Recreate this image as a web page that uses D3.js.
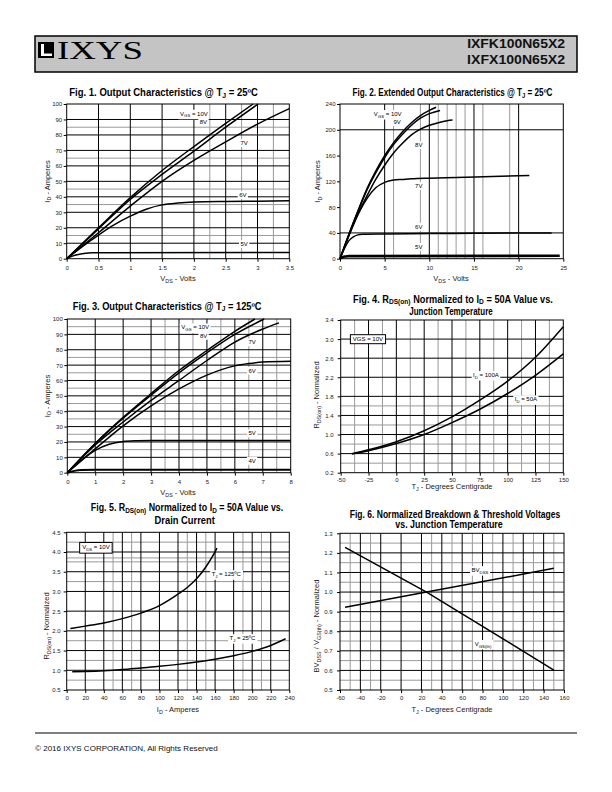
<!DOCTYPE html>
<html><head><meta charset="utf-8">
<script src="https://cdn.jsdelivr.net/npm/d3@7"></script>
<style>body{margin:0;background:#fff}svg{display:block}</style>
</head><body>
<svg id="c" width="612" height="792"></svg>
<script>
// ---------------- DATA ----------------
// Fig 1: Output Characteristics @ TJ = 25C  [VDS (V), ID (A)]
const fig1_10V = [[0,0],[0.5,20],[1,39.5],[1.5,57],[2,72.5],[2.5,87.5],[2.93,100]];
const fig1_8V  = [[0,0],[0.5,19.3],[1,38.3],[1.5,54.5],[2,69.5],[2.5,85],[3.01,100]];
const fig1_7V  = [[0,0],[0.5,16.8],[1,34],[1.5,50],[2,63.5],[2.5,75.5],[3,87],[3.5,97]];
const fig1_6V  = [[0,0],[0.25,8],[0.5,15.3],[0.75,22],[1,27.5],[1.25,32],[1.5,34.8],[1.75,36],[2,36.6],[2.5,37],[3,37.2],[3.5,37.4]];
const fig1_5V  = [[0,0],[0.1,1.8],[0.2,2.9],[0.3,3.5],[0.4,3.8],[0.5,3.9],[3.5,4.0]];
const fig1XTicks = [0,0.5,1,1.5,2,2.5,3,3.5];
const fig1YTicks = [0,10,20,30,40,50,60,70,80,90,100];

// Fig 2: Extended Output Characteristics @ TJ = 25C
const fig2_10V = [[0,0],[1,38],[2,74],[3,108],[4,136],[5,160],[6,180],[7,197],[8,211],[9,222],[10,230],[10.76,235]];
const fig2_9V  = [[0,0],[1,38],[2,73],[3,106],[4,133],[5,157],[6,177],[7,193],[8,207],[9,218],[10,225],[11.2,230]];
const fig2_8V  = [[0,0],[1,36],[2,69],[3,97],[4,123],[5,145],[6,164],[7,179],[8,192],[9,201],[10,207],[11,211],[12,214],[12.6,215]];
const fig2_7V  = [[0,0],[1,36],[2,68],[3,93],[4,110],[5,118.5],[6,122],[7,123],[8,124],[10,125],[13,126],[17,127.5],[21.2,129]];
const fig2_6V  = [[0,0],[0.5,16],[1,28],[1.5,34],[2,37],[2.5,38],[5,38.5],[10,39],[15,39.5],[23.7,40]];
const fig2_5V  = [[0,0],[0.3,2.5],[0.6,3.5],[1,4],[24.6,4.5]];
const fig2XTicks = [0,5,10,15,20,25];
const fig2YTicks = [0,40,80,120,160,200,240];

// Fig 3: Output Characteristics @ TJ = 125C
const fig3_10V = [[0,0],[1,19],[2,36],[3,51.5],[4,66.5],[5,79.5],[6,92],[6.72,100]];
const fig3_8V  = [[0,0],[1,19],[2,35.5],[3,50.5],[4,65],[5,78],[6,90],[7.05,100]];
const fig3_7V  = [[0,0],[1,18],[2,33],[3,47],[4,60],[5,73],[6,85],[7,93.5],[7.58,97.5]];
const fig3_6V  = [[0,0],[1,15.5],[2,30.5],[3,43.5],[4,54.5],[5,63.5],[6,69.5],[6.5,71],[7,72],[8,72.5]];
const fig3_5V  = [[0,0],[0.5,8],[1,14.5],[1.5,18.5],[2,20.3],[2.5,20.8],[3,21],[5,21],[8,21]];
const fig3_4V  = [[0,0],[0.25,1.2],[0.5,1.8],[1,2],[8,2]];
const fig3XTicks = [0,1,2,3,4,5,6,7,8];
const fig3YTicks = [0,10,20,30,40,50,60,70,80,90,100];

// Fig 4: RDS(on) normalized vs junction temperature  [TJ (C), RDS norm]
const fig4_100A = [[-40,0.6],[-25,0.68],[0,0.85],[25,1.08],[50,1.37],[75,1.72],[100,2.12],[125,2.62],[150,3.26]];
const fig4_50A  = [[-40,0.59],[-25,0.66],[0,0.81],[25,1.0],[50,1.25],[75,1.53],[100,1.86],[125,2.24],[150,2.69]];
const fig4XTicks = [-50,-25,0,25,50,75,100,125,150];
const fig4YTicks = [0.2,0.6,1.0,1.4,1.8,2.2,2.6,3.0,3.4];

// Fig 5: RDS(on) normalized vs drain current  [ID (A), RDS norm]
const fig5_125C = [[4,2.06],[20,2.12],[40,2.2],[60,2.31],[80,2.45],[100,2.64],[120,2.93],[130,3.1],[140,3.32],[150,3.62],[157,3.88],[162,4.1]];
const fig5_25C  = [[6,0.96],[20,0.97],[40,0.99],[60,1.02],[80,1.06],[100,1.1],[120,1.15],[140,1.21],[160,1.28],[180,1.37],[200,1.48],[220,1.63],[236,1.8]];
const fig5XTicks = [0,20,40,60,80,100,120,140,160,180,200,220,240];
const fig5YTicks = [0.5,1.0,1.5,2.0,2.5,3.0,3.5,4.0,4.5];

// Fig 6: Normalized breakdown & threshold voltages vs TJ
const fig6_BVDSS = [[-55,0.922],[25,1.0],[150,1.121]];
const fig6_VGSth = [[-55,1.228],[25,1.0],[150,0.602]];
const fig6XTicks = [-60,-40,-20,0,20,40,60,80,100,120,140,160];
const fig6YTicks = [0.5,0.6,0.7,0.8,0.9,1.0,1.1,1.2,1.3];

// ---------------- DRAWING ----------------
const FONT = "'Liberation Sans', Arial, Helvetica, sans-serif";
const svg = d3.select('#c');

function rich(textSel, str, fs, shift) {
  const re = /_\{([^}]*)\}/g;
  let last = 0, m, shifted = false;
  const sh = fs * (shift || 0.22);
  const add = (t, sub) => {
    if (!t) return;
    const ts = textSel.append('tspan').text(t);
    if (sub) { ts.attr('font-size', fs * 0.72).attr('dy', sh); shifted = true; }
    else if (shifted) { ts.attr('dy', -sh); shifted = false; }
  };
  while ((m = re.exec(str)) !== null) {
    add(str.slice(last, m.index), false);
    add(m[1], true);
    last = re.lastIndex;
  }
  add(str.slice(last), false);
}

function txt(parent, x, y, str, o) {
  o = o || {};
  const fs = o.fs || 6;
  const t = parent.append('text').attr('x', x).attr('y', y)
    .attr('font-family', o.family || FONT).attr('font-size', fs)
    .attr('font-weight', o.bold ? 'bold' : 'normal')
    .attr('text-anchor', o.anchor || 'middle').attr('fill', o.fill || '#000');
  if (o.ls) t.attr('letter-spacing', o.ls);
  rich(t, str, fs, o.shift);
  if (o.width) {
    const w = t.node().getBBox().width;
    const k = o.width / w;
    t.attr('transform', `translate(${x},0) scale(${k},1) translate(${-x},0)`);
  }
  return t;
}

function drawChart(c) {
  const g = svg.append('g');
  const x = d3.scaleLinear().domain(c.xd).range([c.l, c.r]);
  const y = d3.scaleLinear().domain(c.yd).range([c.b, c.t]);
  const grid = g.append('g');
  const vl = (v, col) => grid.append('line').attr('x1', x(v)).attr('x2', x(v)).attr('y1', c.t).attr('y2', c.b).attr('stroke', col).attr('stroke-width', 1);
  const hl = (v, col) => grid.append('line').attr('y1', y(v)).attr('y2', y(v)).attr('x1', c.l).attr('x2', c.r).attr('stroke', col).attr('stroke-width', 1);
  (c.xMinor || []).forEach(v => vl(v, '#9a9a9a'));
  (c.yMinor || []).forEach(v => hl(v, '#9a9a9a'));
  (c.xMajor || []).forEach(v => vl(v, '#000'));
  (c.yMajor || []).forEach(v => hl(v, '#000'));

  const styleAxis = s => {
    s.select('.domain').remove();
    s.selectAll('line').attr('stroke', '#000');
    s.selectAll('text').attr('font-size', 6).attr('font-family', FONT).attr('fill', '#222');
  };
  g.append('g').attr('transform', `translate(0,${c.b})`)
    .call(d3.axisBottom(x).tickValues(c.xTicks).tickFormat(c.xFmt || String).tickSize(3).tickPadding(c.xPad))
    .call(styleAxis);
  g.append('g').attr('transform', `translate(${c.l},0)`)
    .call(d3.axisLeft(y).tickValues(c.yTicks).tickFormat(c.yFmt || String).tickSize(3).tickPadding(c.yPad))
    .call(styleAxis);

  g.append('rect').attr('x', c.l).attr('y', c.t).attr('width', c.r - c.l).attr('height', c.b - c.t)
    .attr('fill', 'none').attr('stroke', '#000').attr('stroke-width', 1);

  const line = d3.line().x(d => x(d[0])).y(d => y(d[1])).curve(c.curve || d3.curveMonotoneX);
  c.series.forEach(s => g.append('path').attr('d', line(s.data)).attr('fill', 'none')
    .attr('stroke', '#000').attr('stroke-width', s.w || 1.5).attr('stroke-linejoin', 'round'));

  (c.labels || []).forEach(lb => {
    const fs = lb.fs || 6;
    const lg = g.append('g');
    const t = txt(lg, x(lb.x), y(lb.y) + fs * 0.35, lb.t, { fs, shift: 0.28 });
    const bb = t.node().getBBox();
    const p = lb.box ? 2.5 : 1.5;
    lg.insert('rect', 'text').attr('x', bb.x - p).attr('y', bb.y - p * 0.6).attr('width', bb.width + 2 * p).attr('height', bb.height + p * 1.2)
      .attr('fill', '#fff').attr('stroke', lb.box ? '#000' : 'none').attr('stroke-width', 1);
  });

  c.title.forEach(tl => txt(svg, tl.x, tl.y, tl.t, { fs: 10, bold: true, width: tl.w, shift: 0.15 }));
  txt(svg, c.xl[0], c.xl[1], c.xlabel, { fs: 7.5, fill: '#222' });
  const yt = txt(svg, 0, 0, c.ylabel, { fs: 7.5, fill: '#222' });
  yt.attr('transform', `translate(${c.yl[0]},${c.yl[1]}) rotate(-90)`);
}

// ---- Header ----
svg.append('rect').attr('x', 35).attr('y', 36).attr('width', 542).attr('height', 36)
  .attr('fill', '#c4c4c4').attr('stroke', '#000').attr('stroke-width', 1.5);
svg.append('rect').attr('x', 38).attr('y', 42).attr('width', 16).attr('height', 16).attr('fill', '#000');
svg.append('path').attr('d', 'M41,44 H44 V53.5 H52 V56 H41 Z').attr('fill', '#fff');
txt(svg, 57, 59, 'IXYS', { fs: 26, family: "'Liberation Serif', 'Times New Roman', serif", anchor: 'start', width: 86 });
txt(svg, 565, 48.5, 'IXFK100N65X2', { fs: 12.5, bold: true, anchor: 'end', width: 98, fill: '#111' });
txt(svg, 565, 64.5, 'IXFX100N65X2', { fs: 12.5, bold: true, anchor: 'end', width: 98, fill: '#111' });

// ---- Footer ----
svg.append('line').attr('x1', 35).attr('x2', 577).attr('y1', 733).attr('y2', 733).attr('stroke', '#000').attr('stroke-width', 1);
txt(svg, 35, 751, '© 2016 IXYS CORPORATION, All Rights Reserved', { fs: 8, anchor: 'start', width: 183, fill: '#111' });

// ---- Fig 1 ----
drawChart({
  l: 66.7, r: 289.3, t: 104, b: 258.7, xd: [0, 3.5], yd: [0, 100],
  xTicks: fig1XTicks, yTicks: fig1YTicks, xPad: 4, yPad: 1.5,
  xMajor: [0.5, 1, 1.5, 2, 2.5, 3], xMinor: [2.25, 2.75, 3.25],
  yMajor: [10, 20, 30, 40, 50, 60, 70, 80, 90], yMinor: [15, 35, 45, 65, 85],
  series: [{ data: fig1_10V }, { data: fig1_8V }, { data: fig1_7V }, { data: fig1_6V }, { data: fig1_5V }],
  labels: [
    { t: 'V_{GS} = 10V', x: 2.0, y: 93.8 }, { t: '8V', x: 2.15, y: 88.4 }, { t: '7V', x: 2.79, y: 74.8 },
    { t: '6V', x: 2.77, y: 41.2 }, { t: '5V', x: 2.79, y: 9.5 }],
  title: [{ t: 'Fig. 1. Output Characteristics @ T_{J} = 25ºC', x: 163.6, y: 96.5, w: 189 }],
  xlabel: 'V_{DS} - Volts', xl: [178, 281], ylabel: 'I_{D} - Amperes', yl: [49.5, 181.5]
});

// ---- Fig 2 ----
drawChart({
  l: 340, r: 563.3, t: 104, b: 258.7, xd: [0, 25], yd: [0, 240],
  xTicks: fig2XTicks, yTicks: fig2YTicks, xPad: 4, yPad: 1.5,
  xMajor: [5, 10, 15, 20], xMinor: [6, 9, 11, 12, 13, 14, 16, 19],
  yMajor: [40, 200], yMinor: [],
  series: [{ data: fig2_10V }, { data: fig2_9V }, { data: fig2_8V }, { data: fig2_7V }, { data: fig2_6V }, { data: fig2_5V, w: 2.6 }],
  labels: [
    { t: 'V_{GS} = 10V', x: 5.34, y: 224.7 }, { t: '9V', x: 6.39, y: 211.8 }, { t: '8V', x: 8.82, y: 176.5 },
    { t: '7V', x: 8.82, y: 112.9 }, { t: '6V', x: 8.82, y: 49.7 }, { t: '5V', x: 8.82, y: 18.6 }],
  title: [{ t: 'Fig. 2. Extended Output Characteristics @ T_{J} = 25ºC', x: 452.5, y: 96.5, w: 200 }],
  xlabel: 'V_{DS} - Volts', xl: [451, 281], ylabel: 'I_{D} - Amperes', yl: [320, 181.5]
});

// ---- Fig 3 ----
drawChart({
  l: 67.3, r: 290.7, t: 319, b: 472.7, xd: [0, 8], yd: [0, 100],
  xTicks: fig3XTicks, yTicks: fig3YTicks, xPad: 4.5, yPad: 1.5,
  xMajor: [1, 2, 3, 4, 5, 6, 7], xMinor: [3.5, 4.5, 5.5, 6.5, 7.5],
  yMajor: [10, 20, 30, 40, 50, 60, 70, 80, 90], yMinor: [15, 25, 35, 45, 55, 65, 75, 95],
  series: [{ data: fig3_10V }, { data: fig3_8V }, { data: fig3_7V }, { data: fig3_6V }, { data: fig3_5V }, { data: fig3_4V, w: 2 }],
  labels: [
    { t: 'V_{GS} = 10V', x: 4.58, y: 94.6 }, { t: '8V', x: 4.88, y: 89.1 }, { t: '7V', x: 6.62, y: 84.8 },
    { t: '6V', x: 6.62, y: 66.4 }, { t: '5V', x: 6.62, y: 25.6 }, { t: '4V', x: 6.62, y: 7.8 }],
  title: [{ t: 'Fig. 3. Output Characteristics @ T_{J} = 125ºC', x: 167.2, y: 310, w: 189 }],
  xlabel: 'V_{DS} - Volts', xl: [178, 495], ylabel: 'I_{D} - Amperes', yl: [49.5, 396]
});

// ---- Fig 4 ----
drawChart({
  l: 340.7, r: 563.3, t: 320, b: 472.7, xd: [-50, 150], yd: [0.2, 3.4],
  xTicks: fig4XTicks, yTicks: fig4YTicks, xPad: 2, yPad: 4, yFmt: d3.format('.1f'),
  xMajor: [-25, 0, 25, 50, 75, 100, 125], xMinor: [-37.5, -12.5, 12.5, 37.5, 62.5, 87.5, 112.5, 137.5],
  yMajor: [0.6, 1.0, 1.4, 1.8, 2.2, 2.6, 3.0], yMinor: [0.4, 0.8, 1.2, 1.6],
  series: [{ data: fig4_100A }, { data: fig4_50A }],
  labels: [
    { t: 'I_{D} = 100A', x: 80.5, y: 2.25 }, { t: 'I_{D} = 50A', x: 116.4, y: 1.74 },
    { t: 'VGS = 10V', x: -25.5, y: 3.0, box: true }],
  title: [{ t: 'Fig. 4. R_{DS(on)} Normalized to I_{D} = 50A Value vs.', x: 453, y: 303, w: 200 },
          { t: 'Junction Temperature', x: 451, y: 315, w: 84 }],
  xlabel: 'T_{J} - Degrees Centigrade', xl: [452, 489], ylabel: 'R_{DS(on)} - Normalized', yl: [319, 395]
});

// ---- Fig 5 ----
drawChart({
  l: 66.7, r: 289.3, t: 532.3, b: 690, xd: [0, 240], yd: [0.5, 4.5],
  xTicks: fig5XTicks, yTicks: fig5YTicks, xPad: 3, yPad: 3, yFmt: d3.format('.1f'),
  xMajor: [20, 40, 60, 80, 100, 120, 140, 160, 180, 200, 220], xMinor: [50, 70, 130, 150, 190, 210],
  yMajor: [1.0, 1.5, 2.0, 2.5, 3.0, 3.5, 4.0], yMinor: [0.75, 1.25, 1.75, 3.25, 3.75, 3.85, 4.25],
  series: [{ data: fig5_125C }, { data: fig5_25C }],
  labels: [
    { t: 'T_{J} = 125ºC', x: 172, y: 3.44 }, { t: 'T_{J} = 25ºC', x: 189.5, y: 1.82 },
    { t: 'V_{DS} = 10V', x: 31.5, y: 4.13, box: true }],
  title: [{ t: 'Fig. 5. R_{DS(on)} Normalized to I_{D} = 50A Value vs.', x: 187, y: 511.5, w: 193 },
          { t: 'Drain Current', x: 184.7, y: 524, w: 61 }],
  xlabel: 'I_{D} - Amperes', xl: [178, 712], ylabel: 'R_{DS(on)} - Normalized', yl: [49, 626]
});

// ---- Fig 6 ----
drawChart({
  l: 340, r: 564, t: 533.3, b: 690, xd: [-60, 160], yd: [0.5, 1.3],
  xTicks: fig6XTicks, yTicks: fig6YTicks, xPad: 3, yPad: 4.5, yFmt: d3.format('.1f'),
  xMajor: [-40, -20, 0, 20, 40, 60, 80, 100, 120, 140], xMinor: [-50, -30, 30, 50, 70, 90, 110, 130, 150],
  yMajor: [0.6, 0.7, 0.8, 0.9, 1.0, 1.1, 1.2], yMinor: [0.55, 0.65, 0.75, 0.85, 0.95, 1.05, 1.15, 1.25],
  curve: d3.curveLinear,
  series: [{ data: fig6_BVDSS }, { data: fig6_VGSth }],
  labels: [{ t: 'BV_{DSS}', x: 77.5, y: 1.113 }, { t: 'V_{GS(th)}', x: 80.5, y: 0.736 }],
  title: [{ t: 'Fig. 6. Normalized Breakdown & Threshold Voltages', x: 455, y: 518, w: 211 },
          { t: 'vs. Junction Temperature', x: 449, y: 528.5, w: 108 }],
  xlabel: 'T_{J} - Degrees Centigrade', xl: [452, 712], ylabel: 'BV_{DSS} / V_{GS(th)} - Normalized', yl: [319, 626]
});
</script>
</body></html>
